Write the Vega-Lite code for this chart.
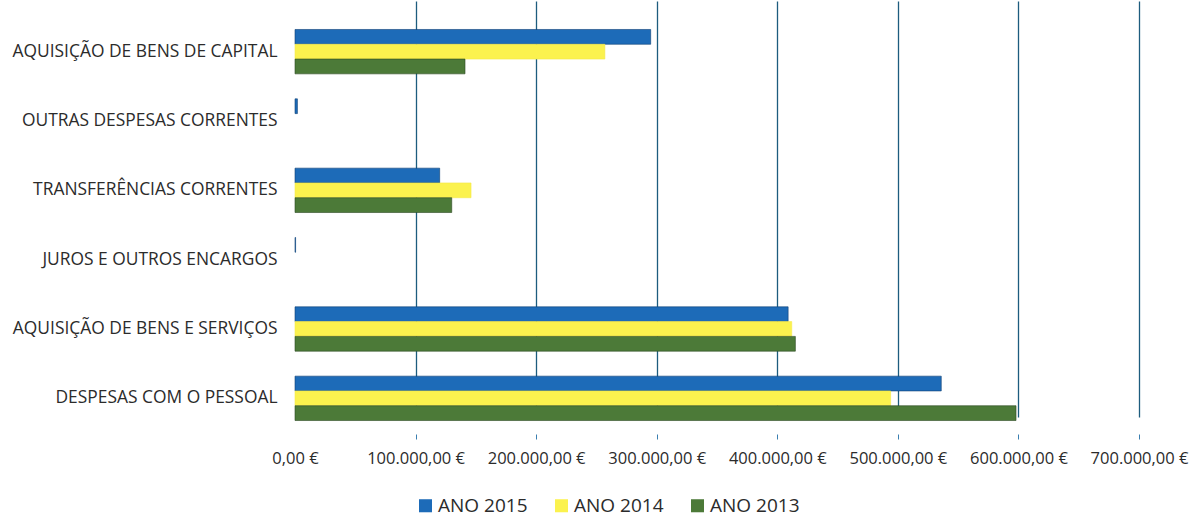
{
  "$schema": "https://vega.github.io/schema/vega-lite/v6.json",
  "width": 844,
  "height": 434,
  "autosize": {"type": "none"},
  "padding": {"left": 295, "top": 0, "right": 54, "bottom": 82},
  "background": "white",
  "config": {
    "view": {"stroke": null},
    "font": "Open Sans",
    "locale": {"number": {"decimal": ",", "thousands": ".", "grouping": [3], "currency": ["", " €"]}}
  },
  "data": {
    "values": [
      {"categoria": "AQUISIÇÃO DE BENS DE CAPITAL", "ano": "ANO 2015", "valor": 295000},
      {"categoria": "AQUISIÇÃO DE BENS DE CAPITAL", "ano": "ANO 2014", "valor": 257000},
      {"categoria": "AQUISIÇÃO DE BENS DE CAPITAL", "ano": "ANO 2013", "valor": 141000},
      {"categoria": "OUTRAS DESPESAS CORRENTES", "ano": "ANO 2015", "valor": 2000},
      {"categoria": "OUTRAS DESPESAS CORRENTES", "ano": "ANO 2014", "valor": 0},
      {"categoria": "OUTRAS DESPESAS CORRENTES", "ano": "ANO 2013", "valor": 0},
      {"categoria": "TRANSFERÊNCIAS CORRENTES", "ano": "ANO 2015", "valor": 120000},
      {"categoria": "TRANSFERÊNCIAS CORRENTES", "ano": "ANO 2014", "valor": 146000},
      {"categoria": "TRANSFERÊNCIAS CORRENTES", "ano": "ANO 2013", "valor": 130000},
      {"categoria": "JUROS E OUTROS ENCARGOS", "ano": "ANO 2015", "valor": 500},
      {"categoria": "JUROS E OUTROS ENCARGOS", "ano": "ANO 2014", "valor": 0},
      {"categoria": "JUROS E OUTROS ENCARGOS", "ano": "ANO 2013", "valor": 0},
      {"categoria": "AQUISIÇÃO DE BENS E SERVIÇOS", "ano": "ANO 2015", "valor": 409000},
      {"categoria": "AQUISIÇÃO DE BENS E SERVIÇOS", "ano": "ANO 2014", "valor": 412000},
      {"categoria": "AQUISIÇÃO DE BENS E SERVIÇOS", "ano": "ANO 2013", "valor": 415000},
      {"categoria": "DESPESAS COM O PESSOAL", "ano": "ANO 2015", "valor": 536000},
      {"categoria": "DESPESAS COM O PESSOAL", "ano": "ANO 2014", "valor": 494000},
      {"categoria": "DESPESAS COM O PESSOAL", "ano": "ANO 2013", "valor": 598000}
    ]
  },
  "mark": {"type": "bar", "strokeWidth": 1},
  "encoding": {
    "y": {
      "field": "categoria",
      "type": "nominal",
      "sort": ["AQUISIÇÃO DE BENS DE CAPITAL", "OUTRAS DESPESAS CORRENTES", "TRANSFERÊNCIAS CORRENTES", "JUROS E OUTROS ENCARGOS", "AQUISIÇÃO DE BENS E SERVIÇOS", "DESPESAS COM O PESSOAL"],
      "scale": {"paddingInner": 0.36, "paddingOuter": 0.18, "range": [17, 433]},
      "axis": {
        "title": null,
        "domain": false,
        "ticks": false,
        "labelFontSize": 17.4,
        "labelColor": "#2b2b2b",
        "labelPadding": 18,
        "labelLimit": 300
      }
    },
    "yOffset": {
      "field": "ano",
      "type": "nominal",
      "sort": ["ANO 2015", "ANO 2014", "ANO 2013"]
    },
    "x": {
      "field": "valor",
      "type": "quantitative",
      "scale": {"domain": [0, 700000], "nice": false},
      "axis": {
        "title": null,
        "values": [0, 100000, 200000, 300000, 400000, 500000, 600000, 700000],
        "labelExpr": "format(datum.value, ',.2f') + ' €'",
        "labelOverlap": false,
        "labelFlush": false,
        "domain": false,
        "grid": true,
        "gridColor": {"condition": {"test": "datum.value === 0", "value": "transparent"}, "value": "#1d5c7e"},
        "gridWidth": 1.3,
        "tickColor": {"condition": {"test": "datum.value === 0", "value": "transparent"}, "value": "#3a7fb0"},
        "tickSize": 5,
        "labelFontSize": 16.5,
        "labelColor": "#2b2b2b",
        "labelPadding": 11
      }
    },
    "color": {
      "field": "ano",
      "type": "nominal",
      "sort": ["ANO 2015", "ANO 2014", "ANO 2013"],
      "scale": {"domain": ["ANO 2015", "ANO 2014", "ANO 2013"], "range": ["#1d6bb8", "#fbf24e", "#4c7a38"]},
      "legend": {
        "title": null,
        "orient": "none",
        "direction": "horizontal",
        "legendX": 121,
        "legendY": 496,
        "symbolType": "square",
        "symbolSize": 170,
        "symbolStrokeWidth": 0,
        "labelFontSize": 19,
        "labelColor": "#2b2b2b",
        "labelOffset": 3,
        "columnPadding": 24,
        "labelLimit": 300
      }
    },
    "stroke": {
      "field": "ano",
      "type": "nominal",
      "scale": {"domain": ["ANO 2015", "ANO 2014", "ANO 2013"], "range": ["#0e3f75", "#f5e94a", "#2c4a22"]},
      "legend": null
    },
    "strokeOpacity": {
      "condition": {"test": "datum.valor === 0", "value": 0},
      "value": 0.6
    }
  }
}
